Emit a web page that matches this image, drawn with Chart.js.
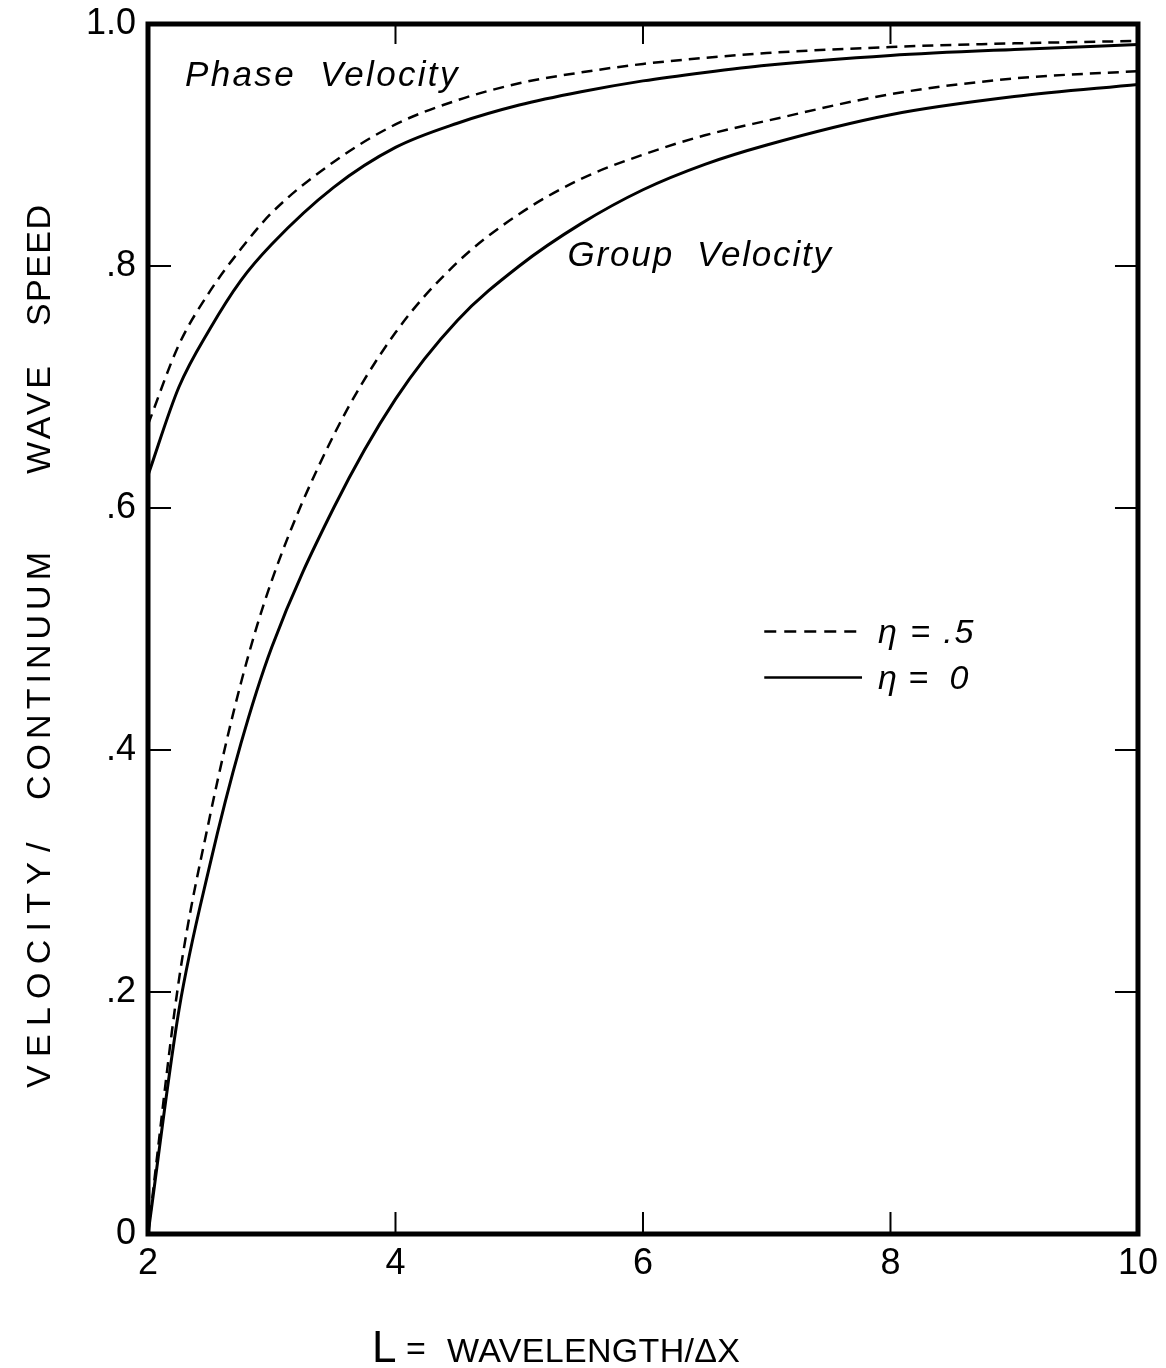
<!DOCTYPE html>
<html>
<head>
<meta charset="utf-8">
<script src="https://cdn.jsdelivr.net/npm/chart.js@4.4.0/dist/chart.umd.min.js"></script>
<style>
  html, body { margin: 0; padding: 0; background: #fff; }
  #wrap { width: 1166px; height: 1368px; }
</style>
</head>
<body>
<div id="wrap"><canvas id="waveChart" width="1166" height="1368"></canvas></div>
<script>
// L = wavelength / dx
const wavelengths = [2, 2.25, 2.5, 2.75, 3, 3.5, 4, 4.5, 5, 5.5, 6, 6.5, 7, 8, 9, 10];

// phase velocity (eta = .5 dashed, eta = 0 solid)
const phaseEtaHalf = [0.669, 0.735, 0.779, 0.814, 0.844, 0.886, 0.917, 0.937, 0.951, 0.960, 0.967, 0.972, 0.976, 0.981, 0.984, 0.986];
const phaseEtaZero = [0.627, 0.700, 0.748, 0.788, 0.818, 0.865, 0.898, 0.918, 0.933, 0.944, 0.953, 0.960, 0.966, 0.974, 0.979, 0.983];

// group velocity
const groupEtaHalf = [0.000, 0.210, 0.345, 0.455, 0.540, 0.660, 0.745, 0.803, 0.843, 0.872, 0.892, 0.908, 0.920, 0.942, 0.955, 0.961];
const groupEtaZero = [0.000, 0.185, 0.305, 0.405, 0.485, 0.600, 0.690, 0.755, 0.800, 0.835, 0.863, 0.884, 0.900, 0.925, 0.940, 0.950];

const xTicks = [2, 4, 6, 8, 10];
const yTicks = [0, 0.2, 0.4, 0.6, 0.8, 1.0];
const yTickLabels = ['0', '.2', '.4', '.6', '.8', '1.0'];

const FONT = "'Liberation Sans', Arial, sans-serif";
Chart.defaults.font.family = FONT;
Chart.defaults.color = '#000';

function toPoints(vals) {
    return wavelengths.map((L, i) => ({ x: L, y: vals[i] }));
}

// draw text stretched between x0 and x1 (letter spacing)
function fitText(ctx, text, x0, x1, y) {
    ctx.letterSpacing = '0px';
    const w = ctx.measureText(text).width;
    const sp = text.length > 1 ? (x1 - x0 - w) / (text.length - 1) : 0;
    ctx.letterSpacing = sp.toFixed(2) + 'px';
    ctx.textAlign = 'left';
    ctx.fillText(text, x0, y);
    ctx.letterSpacing = '0px';
}

const frameAndText = {
    id: 'frameAndText',
    afterDraw(chart) {
        const { ctx, chartArea: a, scales: { x, y } } = chart;
        ctx.save();
        ctx.strokeStyle = '#000';
        ctx.fillStyle = '#000';

        // inward ticks on all four sides
        ctx.lineWidth = 2;
        ctx.beginPath();
        xTicks.slice(1, -1).forEach(v => {
            const px = x.getPixelForValue(v);
            ctx.moveTo(px, a.bottom); ctx.lineTo(px, a.bottom - 22);
            ctx.moveTo(px, a.top); ctx.lineTo(px, a.top + 20);
        });
        yTicks.slice(1, -1).forEach(v => {
            const py = y.getPixelForValue(v);
            ctx.moveTo(a.left, py); ctx.lineTo(a.left + 23, py);
            ctx.moveTo(a.right, py); ctx.lineTo(a.right - 23, py);
        });
        ctx.stroke();

        // frame
        ctx.lineWidth = 5;
        ctx.strokeRect(a.left, a.top, a.right - a.left, a.bottom - a.top);

        // curve labels
        ctx.textBaseline = 'alphabetic';
        ctx.font = 'italic 35px ' + FONT;
        fitText(ctx, 'Phase  Velocity', x.getPixelForValue(2.30), x.getPixelForValue(4.50), y.getPixelForValue(0.949));
        fitText(ctx, 'Group  Velocity', x.getPixelForValue(5.39), x.getPixelForValue(7.52), y.getPixelForValue(0.800));

        // legend
        const lx0 = x.getPixelForValue(6.98), lx1 = x.getPixelForValue(7.77);
        const ly1 = y.getPixelForValue(0.498), ly2 = y.getPixelForValue(0.460);
        ctx.lineWidth = 2.5;
        ctx.setLineDash([12, 8]);
        ctx.beginPath(); ctx.moveTo(lx0, ly1); ctx.lineTo(lx1, ly1); ctx.stroke();
        ctx.setLineDash([]);
        ctx.beginPath(); ctx.moveTo(lx0, ly2); ctx.lineTo(lx1, ly2); ctx.stroke();
        ctx.textBaseline = 'middle';
        ctx.font = 'italic 34px ' + FONT;
        fitText(ctx, 'η = .5', x.getPixelForValue(7.90), x.getPixelForValue(8.67), ly1 + 2);
        fitText(ctx, 'η =  0', x.getPixelForValue(7.90), x.getPixelForValue(8.63), ly2 + 2);

        // x axis title
        ctx.textBaseline = 'alphabetic';
        ctx.font = '44px ' + FONT;
        ctx.textAlign = 'left';
        ctx.fillText('L', 372, 1362);
        ctx.font = '34px ' + FONT;
        ctx.fillText('=', 406, 1360);
        fitText(ctx, 'WAVELENGTH/ΔX', 447, 740, 1362);

        // y axis title, rotated, written bottom to top
        ctx.save();
        ctx.translate(50, 0);
        ctx.rotate(-Math.PI / 2);
        ctx.font = '34px ' + FONT;
        ctx.textBaseline = 'alphabetic';
        [['VELOCITY', 1088, 862], ['/', 852, 812], ['CONTINUUM', 800, 552],
         ['WAVE', 474, 366], ['SPEED', 326, 205]].forEach(([t, b, e]) => {
            fitText(ctx, t, -b, -e, 0);
        });
        ctx.restore();

        ctx.restore();
    }
};

new Chart(document.getElementById('waveChart'), {
    type: 'line',
    data: {
        datasets: [
            { label: 'phase eta=.5', data: toPoints(phaseEtaHalf), borderColor: '#000', borderWidth: 2.5, borderDash: [11, 7] },
            { label: 'phase eta=0', data: toPoints(phaseEtaZero), borderColor: '#000', borderWidth: 3 },
            { label: 'group eta=.5', data: toPoints(groupEtaHalf), borderColor: '#000', borderWidth: 2.5, borderDash: [11, 7] },
            { label: 'group eta=0', data: toPoints(groupEtaZero), borderColor: '#000', borderWidth: 3 }
        ]
    },
    options: {
        responsive: false,
        animation: false,
        layout: { padding: { left: 0, top: 24, right: 26, bottom: 0 } },
        elements: {
            point: { radius: 0 },
            line: { cubicInterpolationMode: 'monotone', fill: false }
        },
        plugins: { legend: { display: false }, tooltip: { enabled: false } },
        scales: {
            x: {
                type: 'linear', min: 2, max: 10,
                grid: { display: false, drawTicks: false },
                border: { display: false },
                afterBuildTicks: s => { s.ticks = xTicks.map(v => ({ value: v })); },
                afterFit: s => { s.height = 134; },
                ticks: { padding: 8, font: { size: 36 }, color: '#000', maxRotation: 0, callback: v => String(v) }
            },
            y: {
                type: 'linear', min: 0, max: 1,
                grid: { display: false, drawTicks: false },
                border: { display: false },
                afterBuildTicks: s => { s.ticks = yTicks.map(v => ({ value: v })); },
                afterFit: s => { s.width = 148; s.paddingTop = 0; s.paddingBottom = 0; },
                ticks: { padding: 12, font: { size: 36 }, color: '#000', callback: v => yTickLabels[yTicks.indexOf(v)] }
            }
        }
    },
    plugins: [frameAndText]
});
</script>
</body>
</html>
